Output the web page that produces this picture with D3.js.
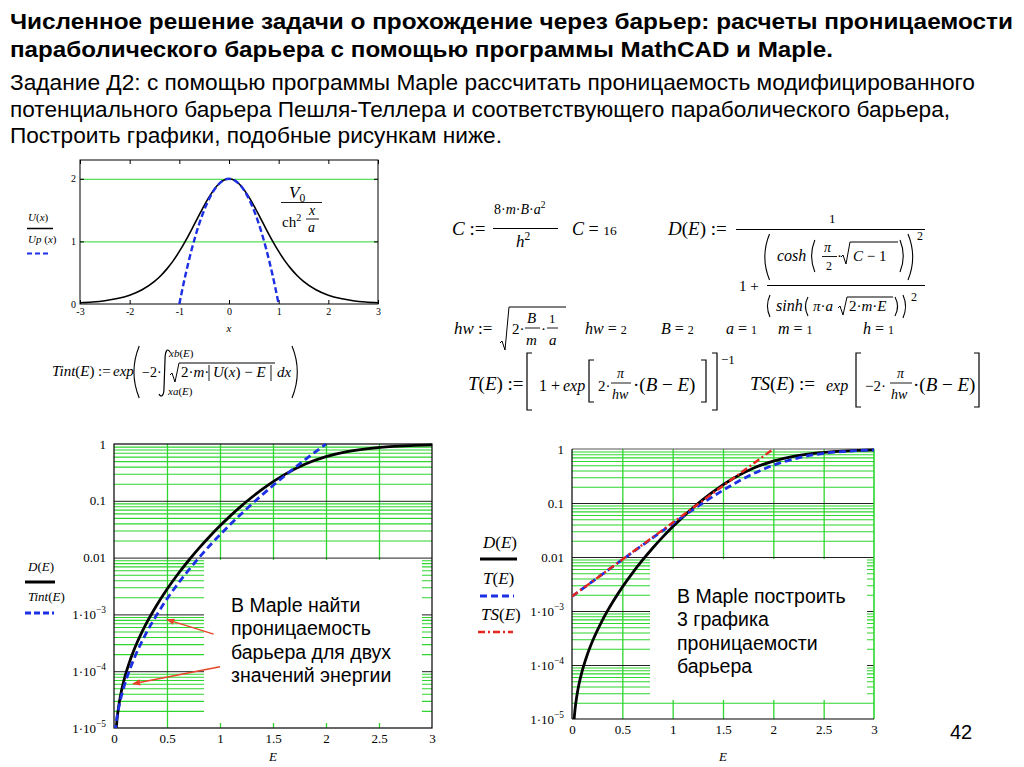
<!DOCTYPE html>
<html><head><meta charset="utf-8">
<script src="https://d3js.org/d3.v7.min.js"></script>
<style>html,body{margin:0;padding:0;background:#fff;} text{white-space:pre;}</style>
</head><body>
<svg id="chart" width="1024" height="767" xmlns="http://www.w3.org/2000/svg"></svg>
<script>
// ---------------- data ----------------
const potentialX = [-3,-2.75,-2.5,-2.25,-2,-1.75,-1.5,-1.375,-1.25,-1.125,-1,-0.875,-0.75,-0.625,-0.5,-0.375,-0.25,-0.125,0,0.125,0.25,0.375,0.5,0.625,0.75,0.875,1,1.125,1.25,1.375,1.5,1.75,2,2.25,2.5,2.75,3];
const potentialU = [0.0197,0.0324,0.0532,0.0869,0.1413,0.2277,0.3614,0.452,0.561,0.689,0.840,1.009,1.193,1.385,1.573,1.743,1.880,1.969,2.000,1.969,1.880,1.743,1.573,1.385,1.193,1.009,0.840,0.689,0.561,0.452,0.3614,0.2277,0.1413,0.0869,0.0532,0.0324,0.0197];
const parabolaX = [-1,-0.875,-0.75,-0.625,-0.5,-0.375,-0.25,-0.125,0,0.125,0.25,0.375,0.5,0.625,0.75,0.875,1];
const parabolaU = [0,0.469,0.875,1.219,1.5,1.719,1.875,1.969,2,1.969,1.875,1.719,1.5,1.219,0.875,0.469,0];

const energyD = [0.02,0.03,0.05,0.07,0.1,0.15,0.2,0.3,0.4,0.5,0.6,0.7,0.8,0.9,1.0,1.1,1.2,1.3,1.4,1.6,1.8,2.0,2.2,2.4,2.6,2.8,3.0];
const transD  = [9.35e-6,1.50e-5,2.82e-5,4.47e-5,7.63e-5,1.52e-4,2.66e-4,6.65e-4,1.42e-3,2.77e-3,5.04e-3,8.71e-3,0.0145,0.0233,0.0362,0.0548,0.0807,0.1155,0.1607,0.2835,0.4389,0.5985,0.7335,0.8318,0.8967,0.9371,0.9617];
const energyTint = [0.01,0.02,0.05,0.1,0.15,0.2,0.3,0.4,0.5,0.6,0.7,0.8,0.9,1.0,1.1,1.2,1.3,1.4,1.5,1.6,1.7,1.8,1.9,2.0];
const transTint  = [8.48e-6,1.22e-5,2.54e-5,5.78e-5,1.09e-4,1.85e-4,4.53e-4,9.61e-4,1.87e-3,3.40e-3,5.90e-3,9.86e-3,0.0160,0.0252,0.0389,0.0588,0.0876,0.1283,0.1857,0.2655,0.375,0.5248,0.7277,1.0];
const energyT = [0,0.25,0.5,0.75,1,1.25,1.5,1.75,2,2.25,2.5,2.75,3];
const transT  = [1.864e-3,4.080e-3,8.905e-3,0.01932,0.04142,0.08658,0.1721,0.3132,0.5,0.6868,0.8279,0.9134,0.9586];
const energyTS = [0,0.25,0.5,0.75,1,1.25,1.5,1.75,2];
const transTS  = [1.867e-3,4.097e-3,8.983e-3,0.01970,0.04321,0.09478,0.2079,0.4559,1.0];

const potXTicks = [-3,-2,-1,0,1,2,3];
const potYTicks = [0,1,2];
const potGrid = [1,2];
const energyTicks = [0,0.5,1,1.5,2,2.5,3];
const energyGrid = [0.5,1,1.5,2,2.5];
const logTickValues = [1,0.1,0.01,0.001,0.0001,0.00001];
const logTickLabels = ["1","0.1","0.01","1·10^−3","1·10^−4","1·10^−5"];
const majorGrid = [0.1,0.01,0.001,0.0001];
const minorMult = [2,3,4,5,6,7,8,9];

const titleLines = ["Численное решение задачи о прохождение через барьер: расчеты проницаемости","параболического барьера с помощью программы MathCAD и Maple."];
const taskLines = ["Задание Д2: с помощью программы Maple рассчитать проницаемость модифицированного","потенциального барьера Пешля-Теллера и соответствующего параболического барьера,","Построить графики, подобные рисункам ниже."];
const boxLeftLines = ["В Maple найти","проницаемость","барьера для двух","значений энергии"];
const boxRightLines = ["В Maple построить","3 графика","проницаемости","барьера"];
const arrowFrom = [[0.94,4.5e-4],[1.0,1.2e-4]];
const arrowTo = [[0.5,8.1e-4],[0.18,6.0e-5]];
const pageNumber = "42";

// ---------------- helpers ----------------
const svg = d3.select("#chart");
const SERIF = "'Liberation Serif','Times New Roman',serif";
const SANS = "'Liberation Sans',Arial,sans-serif";
const GREEN = "#2ed62e", BLUE = "#1d2fe3", RED = "#e4261f", ARROW = "#e8452a";

function rich(g, x, y, parts, fs, opt = {}) {
  const t = g.append("text").attr("x", x).attr("y", y)
    .attr("font-family", opt.ff || SERIF).attr("font-size", fs).attr("fill", "#000");
  if (opt.anchor) t.attr("text-anchor", opt.anchor);
  if (typeof parts === "string") parts = [[parts, opt.it ? "i" : ""]];
  let cur = 0;
  parts.forEach(([s, st]) => {
    st = st || "";
    const sp = t.append("tspan").text(s);
    let target = 0, size = fs;
    if (st.includes("sup")) { target = -fs * 0.42; size = fs * 0.68; }
    if (st.includes("sub")) { target = fs * 0.25; size = fs * 0.68; }
    if (st.includes("sm")) { size = fs * 0.75; }
    sp.attr("dy", target - cur).attr("font-size", size);
    if (st.includes("i")) sp.attr("font-style", "italic");
    cur = target;
  });
  return t;
}
function ln(g, x1, y1, x2, y2, w = 1, c = "#000") {
  return g.append("line").attr("x1", x1).attr("y1", y1).attr("x2", x2).attr("y2", y2)
    .attr("stroke", c).attr("stroke-width", w);
}
function pth(g, d, w = 1.1) {
  return g.append("path").attr("d", d).attr("fill", "none").attr("stroke", "#000").attr("stroke-width", w);
}
function paren(g, x, y1, y2, open, w = 1.1) {
  const m = (y1 + y2) / 2, b = Math.max(3, (y2 - y1) * 0.12);
  const d = open ? `M${x + b},${y1} Q${x - b * 0.7},${m} ${x + b},${y2}`
                 : `M${x},${y1} Q${x + b * 1.7},${m} ${x},${y2}`;
  pth(g, d, w);
}
function bracket(g, x, y1, y2, open) {
  const s = 5;
  pth(g, open ? `M${x + s},${y1} H${x} V${y2} H${x + s}` : `M${x - s},${y1} H${x} V${y2} H${x - s}`, 1.2);
}
function radical(g, x0, ytop, ybot, xend) {
  pth(g, `M${x0},${ybot - 7} L${x0 + 2},${ybot - 9} L${x0 + 5},${ybot} L${x0 + 9},${ytop} L${xend},${ytop}`, 1);
}

// ---------------- heading ----------------
const titleY = [29, 57], titleW = [1003, 823];
titleLines.forEach((s, i) => svg.append("text").attr("x", 10).attr("y", titleY[i])
  .attr("font-family", SANS).attr("font-weight", "bold").attr("font-size", 22)
  .attr("textLength", titleW[i]).attr("lengthAdjust", "spacingAndGlyphs").text(s));
const taskY = [90, 117, 143], taskW = [965, 940, 492];
taskLines.forEach((s, i) => svg.append("text").attr("x", 10).attr("y", taskY[i])
  .attr("font-family", SANS).attr("font-size", 22)
  .attr("textLength", taskW[i]).attr("lengthAdjust", "spacingAndGlyphs").text(s));
svg.append("text").attr("x", 950).attr("y", 739).attr("font-family", SANS).attr("font-size", 20).text(pageNumber);

// ---------------- top chart: potentials ----------------
const gTop = svg.append("g");
const xTop = d3.scaleLinear().domain([-3, 3]).range([80, 378]);
const yTop = d3.scaleLinear().domain([0, 2.3]).range([304, 160]);
gTop.append("g").attr("transform", "translate(80,0)")
  .call(d3.axisLeft(yTop).tickValues(potGrid).tickSize(-298).tickFormat(""))
  .call(a => { a.select(".domain").remove(); a.selectAll("line").attr("stroke", GREEN).attr("stroke-width", 1); });
gTop.append("rect").attr("x", 80).attr("y", 160).attr("width", 298).attr("height", 144)
  .attr("fill", "none").attr("stroke", "#000").attr("stroke-width", 1);
[[d3.axisBottom(xTop), "translate(0,304)", potXTicks], [d3.axisTop(xTop), "translate(0,160)", potXTicks],
 [d3.axisLeft(yTop), "translate(80,0)", potGrid], [d3.axisRight(yTop), "translate(378,0)", potGrid]]
  .forEach(([ax, tr, tv]) => gTop.append("g").attr("transform", tr)
    .call(ax.tickValues(tv).tickSize(-4).tickFormat(""))
    .call(a => { a.select(".domain").remove(); a.selectAll("line").attr("stroke", "#000"); }));
gTop.append("g").attr("transform", "translate(0,304)")
  .call(d3.axisBottom(xTop).tickValues(potXTicks).tickSize(0).tickPadding(4).tickFormat(d => String(d)))
  .call(a => { a.select(".domain").remove(); a.attr("font-family", SERIF).attr("font-size", 10); });
gTop.append("g").attr("transform", "translate(80,0)")
  .call(d3.axisLeft(yTop).tickValues(potYTicks).tickSize(0).tickPadding(4).tickFormat(d => String(d)))
  .call(a => { a.select(".domain").remove(); a.attr("font-family", SERIF).attr("font-size", 10); });
rich(gTop, 229, 332, [["x", "i"]], 11, { anchor: "middle" });
gTop.append("defs").append("clipPath").attr("id", "clipTop").append("rect")
  .attr("x", 80).attr("y", 160).attr("width", 298).attr("height", 144);
const lineTop = d3.line().x(d => xTop(d[0])).y(d => yTop(d[1])).curve(d3.curveMonotoneX);
gTop.append("path").attr("clip-path", "url(#clipTop)").attr("d", lineTop(d3.zip(potentialX, potentialU)))
  .attr("fill", "none").attr("stroke", "#000").attr("stroke-width", 1.6);
gTop.append("path").attr("clip-path", "url(#clipTop)").attr("d", lineTop(d3.zip(parabolaX, parabolaU)))
  .attr("fill", "none").attr("stroke", BLUE).attr("stroke-width", 2.4).attr("stroke-dasharray", "6,3");
// legend
rich(gTop, 28, 221, [["U", "i"], ["(", ""], ["x", "i"], [")", ""]], 11);
ln(gTop, 27, 228.5, 53, 228.5, 1.5);
rich(gTop, 28, 243, [["Up", "i"], [" (", ""], ["x", "i"], [")", ""]], 11);
ln(gTop, 27, 253.5, 51, 253.5, 2.2, BLUE).attr("stroke-dasharray", "5,3");
// formula annotation V0 / ch^2 (x/a)
rich(gTop, 289, 198, [["V", "i"], ["0", "sub"]], 17);
ln(gTop, 281, 202.5, 322, 202.5, 0.9);
rich(gTop, 282, 227, [["ch", ""], ["2", "sup"]], 15);
rich(gTop, 309, 215, [["x", "i"]], 14);
ln(gTop, 306, 219, 319, 219, 0.9);
rich(gTop, 308, 232, [["a", "i"]], 14);

// ---------------- formulas ----------------
const gF = svg.append("g");
// C := 8mBa^2/h^2   C = 16
rich(gF, 452, 235, [["C", "i"], [" :=", ""]], 19);
rich(gF, 494, 214, [["8·", ""], ["m", "i"], ["·", ""], ["B", "i"], ["·", ""], ["a", "i"], ["2", "sup"]], 14);
ln(gF, 493, 228.5, 558, 228.5, 1);
rich(gF, 516, 247, [["h", "i"], ["2", "sup"]], 17);
rich(gF, 572, 235, [["C", "i"], [" = ", ""], ["16", "sm"]], 18);
// D(E)
rich(gF, 668, 235, [["D", "i"], ["(", ""], ["E", "i"], [")", ""], [" :=", ""]], 19);
ln(gF, 736, 229.5, 925, 229.5, 1);
rich(gF, 829, 223, "1", 13);
rich(gF, 739, 291, "1 +", 15);
paren(gF, 764, 234, 280, true);
rich(gF, 777, 261, [["cosh", "i"]], 16);
paren(gF, 811, 240, 272, true);
rich(gF, 824, 252, [["π", "i"]], 14);
ln(gF, 822, 256.5, 837, 256.5, 0.9);
rich(gF, 826, 270, "2", 12);
rich(gF, 837, 261, "·", 15);
radical(gF, 841, 242, 264, 898);
rich(gF, 853, 261, [["C", "i"], [" − 1", ""]], 15);
paren(gF, 900, 240, 272, false);
paren(gF, 908, 234, 280, false);
rich(gF, 917, 240, "2", 12);
ln(gF, 767, 285.5, 925, 285.5, 1);
paren(gF, 767, 295, 317, true);
rich(gF, 776, 311, [["sinh", "i"]], 16);
paren(gF, 805, 297, 316, true);
rich(gF, 813, 311, [["π", "i"], ["·", ""], ["a", "i"]], 15);
radical(gF, 838, 297, 315, 893);
rich(gF, 849, 311, [["2·", ""], ["m", "i"], ["·", ""], ["E", "i"]], 15);
paren(gF, 895, 297, 316, false);
paren(gF, 903, 295, 318, false);
rich(gF, 911, 301, "2", 12);
// hw line
rich(gF, 454, 334, [["hw", "i"], [" :=", ""]], 17);
radical(gF, 500, 307, 350, 566);
rich(gF, 512, 334, "2·", 15);
rich(gF, 527, 323, [["B", "i"]], 15);
ln(gF, 525, 328, 540, 328, 0.9);
rich(gF, 526, 345, [["m", "i"]], 15);
rich(gF, 541, 334, "·", 15);
rich(gF, 549, 323, "1", 13);
ln(gF, 547, 328, 558, 328, 0.9);
rich(gF, 549, 345, [["a", "i"]], 15);
rich(gF, 585, 334, [["hw", "i"], [" = ", ""], ["2", "sm"]], 16);
rich(gF, 661, 334, [["B", "i"], [" = ", ""], ["2", "sm"]], 16);
rich(gF, 726, 334, [["a", "i"], [" = ", ""], ["1", "sm"]], 16);
rich(gF, 778, 334, [["m", "i"], [" = ", ""], ["1", "sm"]], 16);
rich(gF, 863, 334, [["h", "i"], [" = ", ""], ["1", "sm"]], 16);
// Tint
rich(gF, 52, 376, [["Tint", "i"], ["(", ""], ["E", "i"], [")", ""]], 15);
rich(gF, 98, 376, ":=", 15);
rich(gF, 113, 376, [["exp", "i"]], 15);
paren(gF, 133, 346, 398, true);
rich(gF, 142, 377, "−2·", 14);
pth(gF, "M170,352 C167,347 165,352 165,360 L164,388 C164,396 161,398 159,394", 1.2);
rich(gF, 169, 357, [["xb", "i"], ["(", ""], ["E", "i"], [")", ""]], 11);
rich(gF, 168, 395, [["xa", "i"], ["(", ""], ["E", "i"], [")", ""]], 11);
radical(gF, 170, 363, 382, 275);
rich(gF, 181, 377, [["2·", ""], ["m", "i"], ["·", ""]], 15);
ln(gF, 209, 365, 209, 381, 0.9);
rich(gF, 213, 377, [["U", "i"], ["(", ""], ["x", "i"], [")", ""], [" − ", ""], ["E", "i"]], 15);
ln(gF, 271, 365, 271, 381, 0.9);
rich(gF, 277, 377, [["dx", "i"]], 15);
paren(gF, 292, 346, 398, false);
// T(E) and TS(E)
rich(gF, 468, 390, [["T", "i"], ["(", ""], ["E", "i"], [")", ""], [" :=", ""]], 19);
bracket(gF, 527, 353, 410, true);
rich(gF, 539, 391, "1 + ", 16);
rich(gF, 563, 391, [["exp", "i"]], 16);
bracket(gF, 589, 360, 402, true);
rich(gF, 598, 391, "2·", 15);
rich(gF, 617, 378, [["π", "i"]], 14);
ln(gF, 611, 383, 631, 383, 0.9);
rich(gF, 612, 399, [["hw", "i"]], 14);
rich(gF, 633, 391, [["·(", ""], ["B", "i"], [" − ", ""], ["E", "i"], [")", ""]], 19);
bracket(gF, 706, 360, 402, false);
bracket(gF, 717, 353, 410, false);
rich(gF, 721, 364, "−1", 13);
rich(gF, 750, 390, [["TS", "i"], ["(", ""], ["E", "i"], [")", ""], [" :=", ""]], 19);
rich(gF, 826, 391, [["exp", "i"]], 16);
bracket(gF, 856, 353, 407, true);
rich(gF, 865, 391, "−2·", 15);
rich(gF, 897, 378, [["π", "i"]], 14);
ln(gF, 890, 383, 912, 383, 0.9);
rich(gF, 891, 399, [["hw", "i"]], 14);
rich(gF, 913, 391, [["·(", ""], ["B", "i"], [" − ", ""], ["E", "i"], [")", ""]], 19);
bracket(gF, 979, 353, 407, false);

// ---------------- log charts ----------------
const minorVals = [];
[-5, -4, -3, -2, -1].forEach(p => minorMult.forEach(k => minorVals.push(k * Math.pow(10, p))));

svg.append("defs").append("marker").attr("id", "arr").attr("viewBox", "0 0 10 10")
  .attr("refX", 9).attr("refY", 5).attr("markerWidth", 8).attr("markerHeight", 8)
  .attr("markerUnits", "userSpaceOnUse").attr("orient", "auto")
  .append("path").attr("d", "M0,1 L10,5 L0,9 Z").attr("fill", ARROW);

function logChart(id, xs, ys, box, frameStyle) {
  const g = svg.append("g");
  const [xa, xb] = xs.range(), [yb, ya] = ys.range();
  const W = xb - xa, H = yb - ya;
  g.append("g").attr("transform", `translate(0,${yb})`)
    .call(d3.axisBottom(xs).tickValues(energyGrid).tickSize(-H).tickFormat(""))
    .call(a => { a.select(".domain").remove(); a.selectAll("line").attr("stroke", GREEN).attr("stroke-width", 1.3); });
  g.append("g").attr("transform", `translate(${xa},0)`)
    .call(d3.axisLeft(ys).tickValues(minorVals).tickSize(-W).tickFormat(""))
    .call(a => { a.select(".domain").remove(); a.selectAll("line").attr("stroke", GREEN).attr("stroke-width", 1.1); });
  g.append("g").attr("transform", `translate(${xa},0)`)
    .call(d3.axisLeft(ys).tickValues(majorGrid).tickSize(-W).tickFormat(""))
    .call(a => { a.select(".domain").remove(); a.selectAll("line").attr("stroke", "#222").attr("stroke-width", 1); });
  // text box
  g.append("rect").attr("x", box.x).attr("y", box.y).attr("width", box.w).attr("height", box.h).attr("fill", "#fff");
  box.lines.forEach((s, i) => g.append("text").attr("x", box.tx).attr("y", box.ty + i * box.dy)
    .attr("font-family", SANS).attr("font-size", box.fs).attr("fill", "#000").text(s));
  // frame
  if (frameStyle === "full") {
    g.append("rect").attr("x", xa).attr("y", ya).attr("width", W).attr("height", H)
      .attr("fill", "none").attr("stroke", "#000").attr("stroke-width", 1.2);
  } else {
    ln(g, xa, ya, xb, ya, 1, "#555");
    ln(g, xb, ya, xb, yb, 1.6, GREEN);
    ln(g, xa, ya, xa, yb, 1.2, "#000");
    ln(g, xa, yb, xb, yb, 1.2, "#000");
  }
  // tick labels
  g.append("g").attr("transform", `translate(0,${yb})`)
    .call(d3.axisBottom(xs).tickValues(energyTicks).tickSize(0).tickPadding(6).tickFormat(d => String(d)))
    .call(a => { a.select(".domain").remove(); a.attr("font-family", SERIF).attr("font-size", 13); });
  g.append("g").attr("transform", `translate(${xa},0)`)
    .call(d3.axisLeft(ys).tickValues(logTickValues).tickSize(0).tickPadding(8).tickFormat(""))
    .call(a => {
      a.select(".domain").remove(); a.attr("font-family", SERIF).attr("font-size", 13);
      a.selectAll(".tick text").each(function (d) {
        const el = d3.select(this);
        const [b, e] = logTickLabels[logTickValues.indexOf(d)].split("^");
        el.text(null);
        el.append("tspan").text(b);
        if (e) el.append("tspan").attr("dy", "-0.6em").attr("font-size", "0.72em").text(e);
      });
    });
  rich(g, (xa + xb) / 2, 761, [["E", "i"]], 13, { anchor: "middle" });
  g.append("defs").append("clipPath").attr("id", id).append("rect")
    .attr("x", xa).attr("y", ya - 1).attr("width", W).attr("height", H + 1);
  const line = d3.line().x(d => xs(d[0])).y(d => ys(d[1])).curve(d3.curveMonotoneX);
  return { g, line, clip: `url(#${id})` };
}

// left
const xL = d3.scaleLinear().domain([0, 3]).range([114, 432]);
const yL = d3.scaleLog().domain([1e-5, 1]).range([728, 444]);
const L = logChart("clipL", xL, yL,
  { x: 204, y: 560, w: 218, h: 163, tx: 231, ty: 612, dy: 23.3, fs: 19.5, lines: boxLeftLines }, "full");
L.g.append("path").attr("clip-path", L.clip).attr("d", L.line(d3.zip(energyD, transD)))
  .attr("fill", "none").attr("stroke", "#000").attr("stroke-width", 2.8);
L.g.append("path").attr("clip-path", L.clip).attr("d", L.line(d3.zip(energyTint, transTint)))
  .attr("fill", "none").attr("stroke", BLUE).attr("stroke-width", 2.8).attr("stroke-dasharray", "7,4");
arrowFrom.forEach((f, i) => L.g.append("line")
  .attr("x1", xL(f[0])).attr("y1", yL(f[1])).attr("x2", xL(arrowTo[i][0])).attr("y2", yL(arrowTo[i][1]))
  .attr("stroke", ARROW).attr("stroke-width", 1.5).attr("marker-end", "url(#arr)"));
// legend left
rich(L.g, 28, 571, [["D", "i"], ["(", ""], ["E", "i"], [")", ""]], 13);
ln(L.g, 25, 582, 55, 582, 3);
rich(L.g, 28, 601, [["Tint", "i"], ["(", ""], ["E", "i"], [")", ""]], 13);
ln(L.g, 25, 613, 54, 613, 3, BLUE).attr("stroke-dasharray", "6,3");

// right
const xR = d3.scaleLinear().domain([0, 3]).range([572, 874]);
const yR = d3.scaleLog().domain([1e-5, 1]).range([719, 449]);
const R = logChart("clipR", xR, yR,
  { x: 650, y: 559, w: 217, h: 141, tx: 677, ty: 603, dy: 23.4, fs: 19.5, lines: boxRightLines }, "open");
R.g.append("path").attr("clip-path", R.clip).attr("d", R.line(d3.zip(energyD, transD)))
  .attr("fill", "none").attr("stroke", "#000").attr("stroke-width", 2.8);
R.g.append("path").attr("clip-path", R.clip).attr("d", R.line(d3.zip(energyT, transT)))
  .attr("fill", "none").attr("stroke", BLUE).attr("stroke-width", 2.8).attr("stroke-dasharray", "7,4");
R.g.append("path").attr("clip-path", R.clip).attr("d", R.line(d3.zip(energyTS, transTS)))
  .attr("fill", "none").attr("stroke", RED).attr("stroke-width", 2.4).attr("stroke-dasharray", "7,3,2,3");
// legend right
rich(R.g, 483, 548, [["D", "i"], ["(", ""], ["E", "i"], [")", ""]], 17);
ln(R.g, 480, 559, 517, 559, 3);
rich(R.g, 483, 584, [["T", "i"], ["(", ""], ["E", "i"], [")", ""]], 17);
ln(R.g, 480, 596, 514, 596, 3, BLUE).attr("stroke-dasharray", "7,4");
rich(R.g, 481, 620, [["TS", "i"], ["(", ""], ["E", "i"], [")", ""]], 17);
ln(R.g, 478, 632, 513, 632, 2.6, RED).attr("stroke-dasharray", "7,3,2,3");
</script>
</body></html>
